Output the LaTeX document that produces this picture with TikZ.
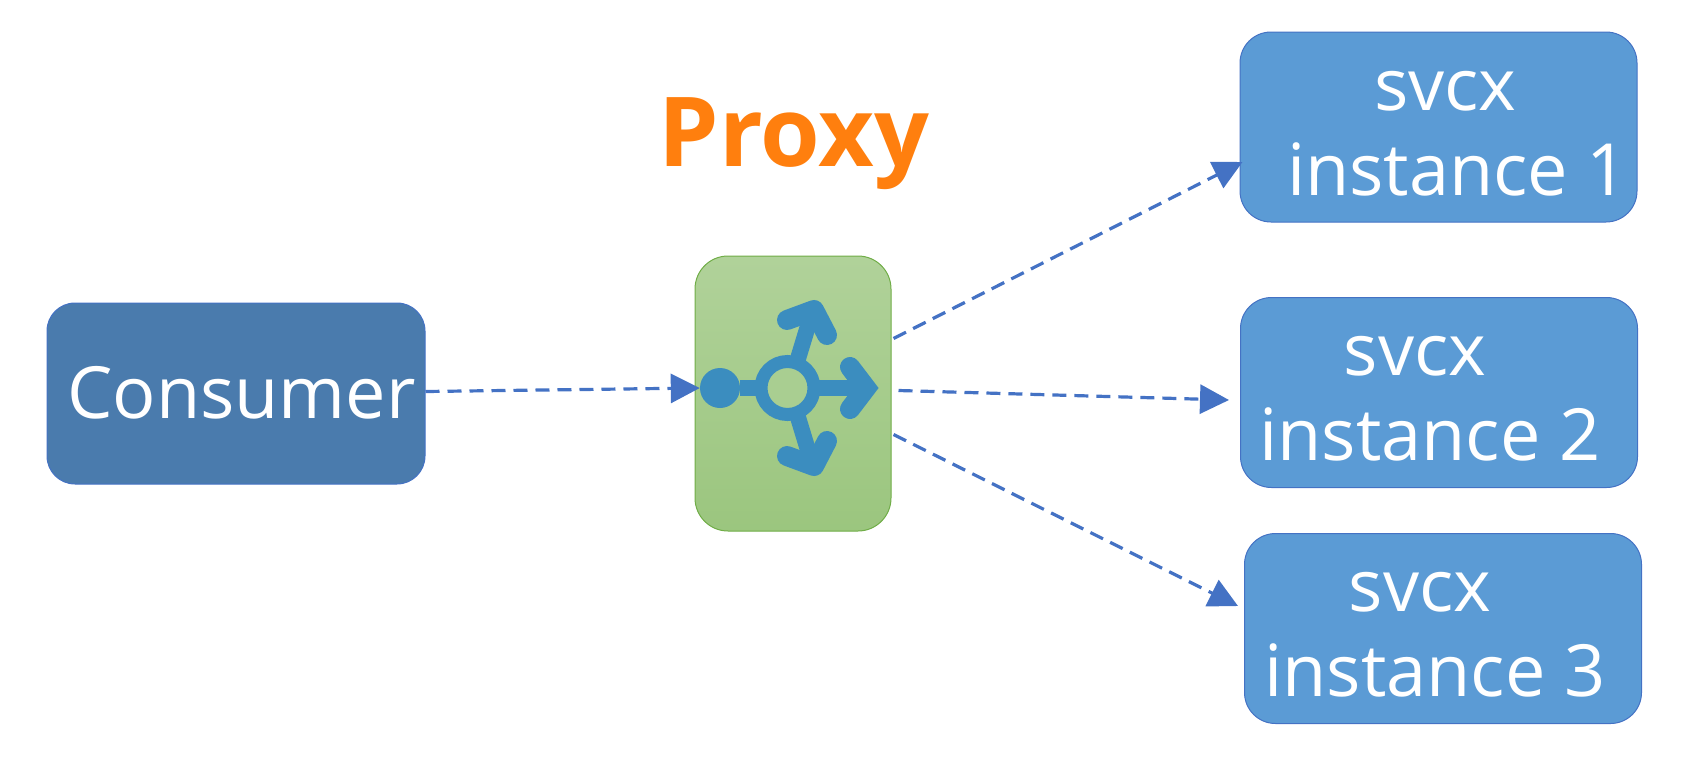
\documentclass[tikz,border=0pt]{standalone}
\usepackage{fontspec}
\setmainfont{Open Sans}
\usepackage{tikz}
\usetikzlibrary{arrows.meta}

\definecolor{svcblue}{HTML}{5B9BD5}
\definecolor{consumerblue}{HTML}{4A7BAD}
\definecolor{linkblue}{HTML}{4472C4}
\definecolor{iconblue}{HTML}{3B8DBF}
\definecolor{proxyborder}{HTML}{70AD47}
\definecolor{proxyorange}{HTML}{FF7F0E}

\tikzset{
  box/.style={draw=linkblue, line width=1pt, rounded corners=31pt, text=white, align=center, inner sep=0pt,
    font=\fontsize{72}{85}\selectfont},
  svc/.style={box, fill=svcblue, minimum width=397pt, minimum height=190pt, text height=136pt, text depth=0pt},
  link/.style={draw=linkblue, line width=3.2pt, dash pattern=on 14pt off 8pt, -{Triangle[length=29pt,width=29pt]}},
  iconline/.style={draw=iconblue, line width=16pt},
  iconhead/.style={draw=iconblue, line width=20pt, line cap=round, line join=round}
}

\begin{document}
\begin{tikzpicture}[x=1pt,y=-1pt]

\useasboundingbox (0,0) rectangle (1682,764);

\node[box, fill=consumerblue, minimum width=378pt, minimum height=181pt, rounded corners=28pt, text height=49pt, text depth=0pt] (consumer) at (236,393.5) {\hspace*{11pt}Consumer};

\node[draw=proxyborder, line width=1pt, rounded corners=33pt, top color=proxyborder!55!white, bottom color=proxyborder!70!white, minimum width=196pt, minimum height=275pt] (proxy) at (793,393.5) {};

\node[svc] (svc1) at (1438.5,127) {\hspace*{14pt}svcx\\\hspace*{38pt}instance 1};
\node[svc] (svc2) at (1439,392.5) {svcx\hspace*{48pt}\\instance 2\hspace*{18pt}};
\node[svc] (svc3) at (1443,628.5) {svcx\hspace*{46pt}\\instance 3\hspace*{16pt}};

\node[text=proxyorange, inner sep=0pt, font=\fontsize{96.5}{96.5}\selectfont\bfseries] (title) at (794,144) {Proxy};

% router icon
\node[circle, fill=iconblue, minimum size=40pt, inner sep=0pt] (dot) at (720,388) {};
\node[circle, draw=iconblue, line width=13pt, fill=proxyborder!60!white, minimum size=53pt, inner sep=0pt, outer sep=0pt] (ring) at (787.5,388) {};
\draw[iconline] (dot) -- (ring);
\draw[iconline] (ring) -- (865,388);
\draw[iconhead, line join=miter] (850,367) -- (866,388) -- (850,409);
\foreach \y/\s in {0/1, 776/-1} {
  \begin{scope}[yshift=\y*-1pt, yscale=\s]
    \draw[iconline] (797,362) -- (811,316);
    \draw[iconhead] (787,320) -- (814,310) -- (827,335);
  \end{scope}
}

\draw[link] ([yshift=2pt]consumer.east) -- (dot.west);
\draw[link] ([xshift=2pt,yshift=55pt]proxy.east) -- ([xshift=3pt,yshift=-35pt]svc1.west);
\draw[link] ([xshift=7pt,yshift=3pt]proxy.east) -- ([xshift=-11pt,yshift=-7.5pt]svc2.west);
\draw[link] ([xshift=2pt,yshift=-41pt]proxy.east) -- ([xshift=-6pt,yshift=22.5pt]svc3.west);

\end{tikzpicture}
\end{document}
